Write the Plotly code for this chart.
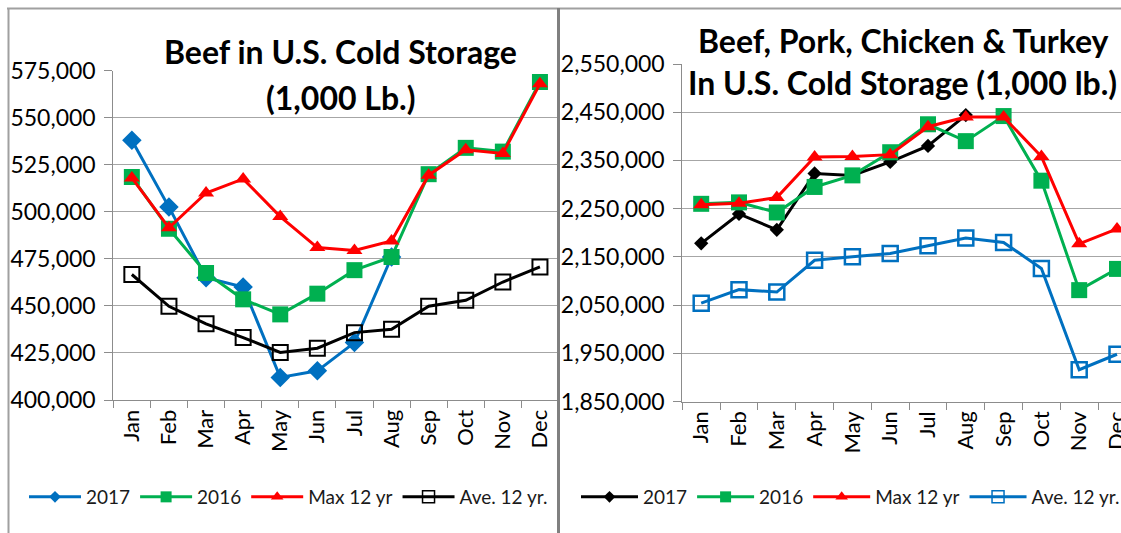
import plotly.graph_objects as go

W, H = 1121, 533

months = ["Jan", "Feb", "Mar", "Apr", "May", "Jun", "Jul", "Aug", "Sep", "Oct", "Nov", "Dec"]

# Beef in U.S. cold storage (1,000 lb.)
beef_2017 = [538000, 502500, 465000, 460000, 412000, 415500, 430500, 476000]
beef_2016 = [518500, 491000, 467500, 453500, 445500, 456500, 469000, 476000, 520000, 534000, 532000, 569000]
beef_max12 = [518000, 491500, 510000, 517500, 497500, 481000, 479500, 484500, 519500, 533000, 531000, 568000]
beef_ave12 = [466700, 449800, 440500, 433200, 425300, 427500, 435800, 437600, 449800, 453000, 462700, 470700]

# Beef, pork, chicken & turkey in U.S. cold storage (1,000 lb.)
all_2017 = [2178000, 2239000, 2206000, 2323000, 2319000, 2347000, 2380000, 2444000]
all_2016 = [2260000, 2263000, 2242000, 2295000, 2319000, 2367000, 2425000, 2390000, 2442000, 2308000, 2081000, 2125000]
all_max12 = [2258000, 2261000, 2273000, 2357000, 2358000, 2362000, 2420000, 2440000, 2440000, 2358000, 2177000, 2208000]
all_ave12 = [2054000, 2082000, 2077000, 2143000, 2150000, 2157000, 2173000, 2189000, 2180000, 2126000, 1916000, 1948000]

series_names = ["2017", "2016", "Max 12 yr", "Ave. 12 yr."]

BLUE = "#0070C0"
GREEN = "#00B050"
RED = "#FF0000"
BLACK = "#000000"
GRID = "#A6A6A6"
AXIS = "#8C8C8C"
FONT = "Lato"


def px(x):
    return x / W


def py(y):
    return 1 - y / H


fig = go.Figure()


def add_series(vals, name, col, mk, legmk, xa, ya, leg):
    fig.add_trace(go.Scatter(
        x=months[:len(vals)], y=vals, name=name, mode="lines+markers",
        line=dict(color=col, width=3), marker=mk, cliponaxis=False,
        xaxis=xa, yaxis=ya, showlegend=False,
    ))
    # legend entry with the smaller legend marker
    fig.add_trace(go.Scatter(
        x=[None], y=[None], name=name, mode="lines+markers",
        line=dict(color=col, width=3), marker=legmk,
        xaxis=xa, yaxis=ya, legend=leg, showlegend=True,
    ))


# ---- left chart ----
left_styles = [
    (beef_2017, BLUE, dict(symbol="diamond", size=15, color=BLUE), dict(symbol="diamond", size=9, color=BLUE)),
    (beef_2016, GREEN, dict(symbol="square", size=16, color=GREEN), dict(symbol="square", size=11, color=GREEN)),
    (beef_max12, RED, dict(symbol="triangle-up", size=14, color=RED), dict(symbol="triangle-up", size=11, color=RED)),
    (beef_ave12, BLACK, dict(symbol="square-open", size=15, color=BLACK, line=dict(width=2, color=BLACK)),
     dict(symbol="square-open", size=12, color=BLACK, line=dict(width=1.5, color=BLACK))),
]
for name, (vals, col, mk, lmk) in zip(series_names, left_styles):
    add_series(vals, name, col, mk, lmk, "x", "y", "legend")

# ---- right chart ----
right_styles = [
    (all_2017, BLACK, dict(symbol="diamond", size=11, color=BLACK), dict(symbol="diamond", size=9, color=BLACK)),
    (all_2016, GREEN, dict(symbol="square", size=16, color=GREEN), dict(symbol="square", size=11, color=GREEN)),
    (all_max12, RED, dict(symbol="triangle-up", size=14, color=RED), dict(symbol="triangle-up", size=11, color=RED)),
    (all_ave12, BLUE, dict(symbol="square-open", size=15, color=BLUE, line=dict(width=2.5, color=BLUE)),
     dict(symbol="square-open", size=12, color=BLUE, line=dict(width=1.5, color=BLUE))),
]
for name, (vals, col, mk, lmk) in zip(series_names, right_styles):
    add_series(vals, name, col, mk, lmk, "x2", "y2", "legend2")

xcommon = dict(
    type="category", categoryorder="array", categoryarray=months,
    showline=True, linecolor=AXIS, linewidth=1,
    ticks="outside", tickson="boundaries", ticklen=7, tickcolor=AXIS,
    tickangle=-90, tickfont=dict(family=FONT, size=22, color="#000000"),
    showgrid=False, zeroline=False, fixedrange=True, automargin=False,
)
ycommon = dict(
    showline=True, linecolor=AXIS, linewidth=1,
    ticks="outside", ticklen=8, tickcolor=AXIS,
    tickformat=",d", tickfont=dict(family=FONT, size=23, color="#000000"),
    showgrid=True, gridcolor=GRID, gridwidth=1, zeroline=False, fixedrange=True,
    ticklabelstandoff=4, automargin=False,
)

fig.update_layout(
    template="none",
    width=W, height=H,
    margin=dict(l=0, r=0, t=0, b=0, autoexpand=False),
    paper_bgcolor="white", plot_bgcolor="white",
    font=dict(family=FONT, color="#000000"),
    xaxis=dict(xcommon, domain=[px(113.3), px(558.5)], range=[-0.5, 11.5], anchor="y"),
    yaxis=dict(ycommon, domain=[py(400), py(70.7)], range=[400000, 575000],
               tick0=400000, dtick=25000, anchor="x"),
    xaxis2=dict(xcommon, domain=[px(682.3), 1.0], range=[-0.5, -0.5 + (W - 682.3) / 37.8], anchor="y2"),
    yaxis2=dict(ycommon, domain=[py(401.5), py(64)], range=[1850000, 2550000],
                tick0=1850000, dtick=100000, anchor="x2"),
    legend=dict(orientation="h", x=px(24), xanchor="left", y=py(497), yanchor="middle",
                font=dict(family=FONT, size=19, color="#1a1a1a"), itemwidth=52,
                bgcolor="rgba(0,0,0,0)", traceorder="normal"),
    legend2=dict(orientation="h", x=px(576), xanchor="left", y=py(497), yanchor="middle",
                 font=dict(family=FONT, size=19, color="#1a1a1a"), itemwidth=57,
                 bgcolor="rgba(0,0,0,0)", traceorder="normal"),
    showlegend=True,
    hovermode=False,
)

# titles
titles = [
    ("Beef in U.S. Cold Storage", 340, 52),
    ("(1,000 Lb.)", 340, 97),
    ("Beef, Pork, Chicken & Turkey", 903, 40),
    ("In U.S. Cold Storage (1,000 lb.)", 902, 82),
]
for txt, x, y in titles:
    fig.add_annotation(text="<b>%s</b>" % txt, x=px(x), y=py(y), xref="paper", yref="paper",
                       xanchor="center", yanchor="middle", showarrow=False,
                       font=dict(family=FONT, size=32, color="#000000"))

# panel frames
frame = "#A0A0A0"
fig.add_shape(type="line", xref="paper", yref="paper", x0=px(7), x1=1.0, y0=py(8.5), y1=py(8.5),
              line=dict(color=frame, width=2))
fig.add_shape(type="line", xref="paper", yref="paper", x0=px(8.5), x1=px(8.5), y0=py(8), y1=0,
              line=dict(color=frame, width=2))
fig.add_shape(type="line", xref="paper", yref="paper", x0=px(558.5), x1=px(558.5), y0=py(8), y1=0,
              line=dict(color="#808080", width=3))

fig.write_html(
    "out.html",
    config={"displayModeBar": False, "staticPlot": True},
    post_script="document.body.style.margin='0px';document.body.style.overflow='hidden';",
)
